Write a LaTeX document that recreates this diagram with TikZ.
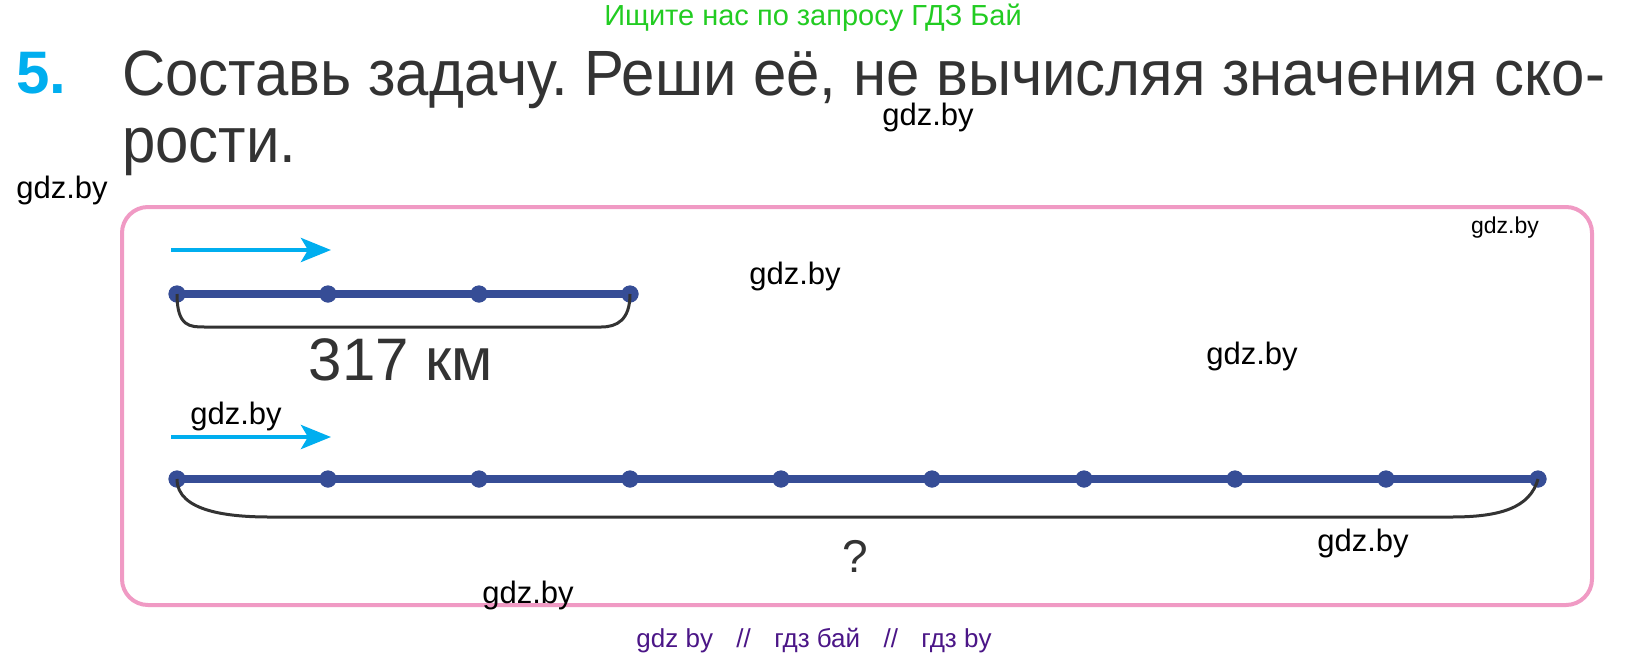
\documentclass[tikz,border=0pt]{standalone}
\usepackage{fontspec}
\setmainfont{Liberation Sans}
\newfontfamily\titlefont[FakeStretch=0.936]{Liberation Sans}
\usetikzlibrary{arrows.meta}
\definecolor{cyanA}{RGB}{0,174,239}
\definecolor{lineblue}{RGB}{54,77,150}
\definecolor{pinkbox}{RGB}{240,154,196}
\definecolor{greentxt}{RGB}{34,204,34}
\definecolor{titlegray}{RGB}{51,51,51}
\definecolor{purpletxt}{RGB}{75,22,135}
\frenchspacing
\begin{document}
\begin{tikzpicture}[x=1pt,y=-1pt,
  dot/.style={circle,fill=lineblue,inner sep=0pt,minimum size=17pt},
  seg/.style={draw=lineblue,line width=8pt},
  bracel/.style={draw=titlegray,line width=3pt},
  dirarrow/.style={draw=cyanA,line width=4.5pt,-{Stealth[length=30pt,width=24pt,inset=7pt]}},
  wm/.style={font=\fontsize{31}{33}\selectfont,text=black,inner sep=0pt},
  wmsmall/.style={font=\fontsize{23}{25}\selectfont,text=black,inner sep=0pt},
  titletxt/.style={font=\titlefont\fontsize{64}{70}\selectfont,text=titlegray,inner sep=0pt,anchor=base west},
]
\useasboundingbox (0,0) rectangle (1629,665);
\fill[white] (0,0) rectangle (1629,665);

% header
\node[font=\fontsize{29}{31}\selectfont,text=greentxt,inner sep=0pt,anchor=base] (hdr) at (813,25) {Ищите нас по запросу ГДЗ Бай};
\node[font=\bfseries\fontsize{60}{64}\selectfont,text=cyanA,inner sep=0pt,anchor=base west] (num) at (16,93) {5.};
\node[titletxt] (t1) at (122,95) {Составь задачу. Реши её, не вычисляя значения ско-};
\node[titletxt] (t2) at (122,162) {рости.};

% frame
\draw[pinkbox,line width=4pt,rounded corners=26pt] (122,207) rectangle (1592,605);

% top scheme
\coordinate (a1s) at (171,250);
\coordinate (a1e) at (331,250);
\draw[dirarrow] (a1s) -- (a1e);
\foreach \i/\x in {0/177,1/328,2/479,3/630}{
  \node[dot] (p\i) at (\x,294) {};
}
\draw[seg] (p0.center) -- (p3.center);
\foreach \i in {0,1,2,3}{ \node[dot] at (p\i) {}; }
\draw[bracel] (p0.center) .. controls (177,327) and (190,327) .. (205,327) -- (601,327) .. controls (617,327) and (630,320) .. (p3.center);
\node[font=\fontsize{60}{64}\selectfont,text=titlegray,inner sep=0pt] (d1) at (401,360) {317 км};

% bottom scheme
\coordinate (a2s) at (171,437);
\coordinate (a2e) at (331,437);
\draw[dirarrow] (a2s) -- (a2e);
\foreach \i/\x in {0/177,1/328,2/479,3/630,4/781,5/932,6/1084,7/1235,8/1386,9/1538}{
  \node[dot] (q\i) at (\x,479) {};
}
\draw[seg] (q0.center) -- (q9.center);
\foreach \i in {0,...,9}{ \node[dot] at (q\i) {}; }
\draw[bracel] (q0.center) .. controls (177,512) and (230,517) .. (270,517) -- (1451,517) .. controls (1500,517) and (1530,508) .. (q9.center);
\node[font=\fontsize{46}{50}\selectfont,text=titlegray,inner sep=0pt] (qm) at (855,556) {?};

% watermarks
\node[wm] (w1) at (928,117) {gdz.by};
\node[wm] (w2) at (62,190) {gdz.by};
\node[wmsmall] (w3) at (1505,228) {gdz.by};
\node[wm] (w4) at (795,276) {gdz.by};
\node[wm] (w5) at (1252,356) {gdz.by};
\node[wm] (w6) at (236,416) {gdz.by};
\node[wm] (w7) at (1363,543) {gdz.by};
\node[wm] (w8) at (528,595) {gdz.by};

% footer
\node[font=\fontsize{26}{28}\selectfont,text=purpletxt,inner sep=0pt,anchor=base] (ftr) at (814,647) {gdz by\hspace{0.9em}//\hspace{0.9em}гдз бай\hspace{0.9em}//\hspace{0.9em}гдз by};
\end{tikzpicture}
\end{document}
